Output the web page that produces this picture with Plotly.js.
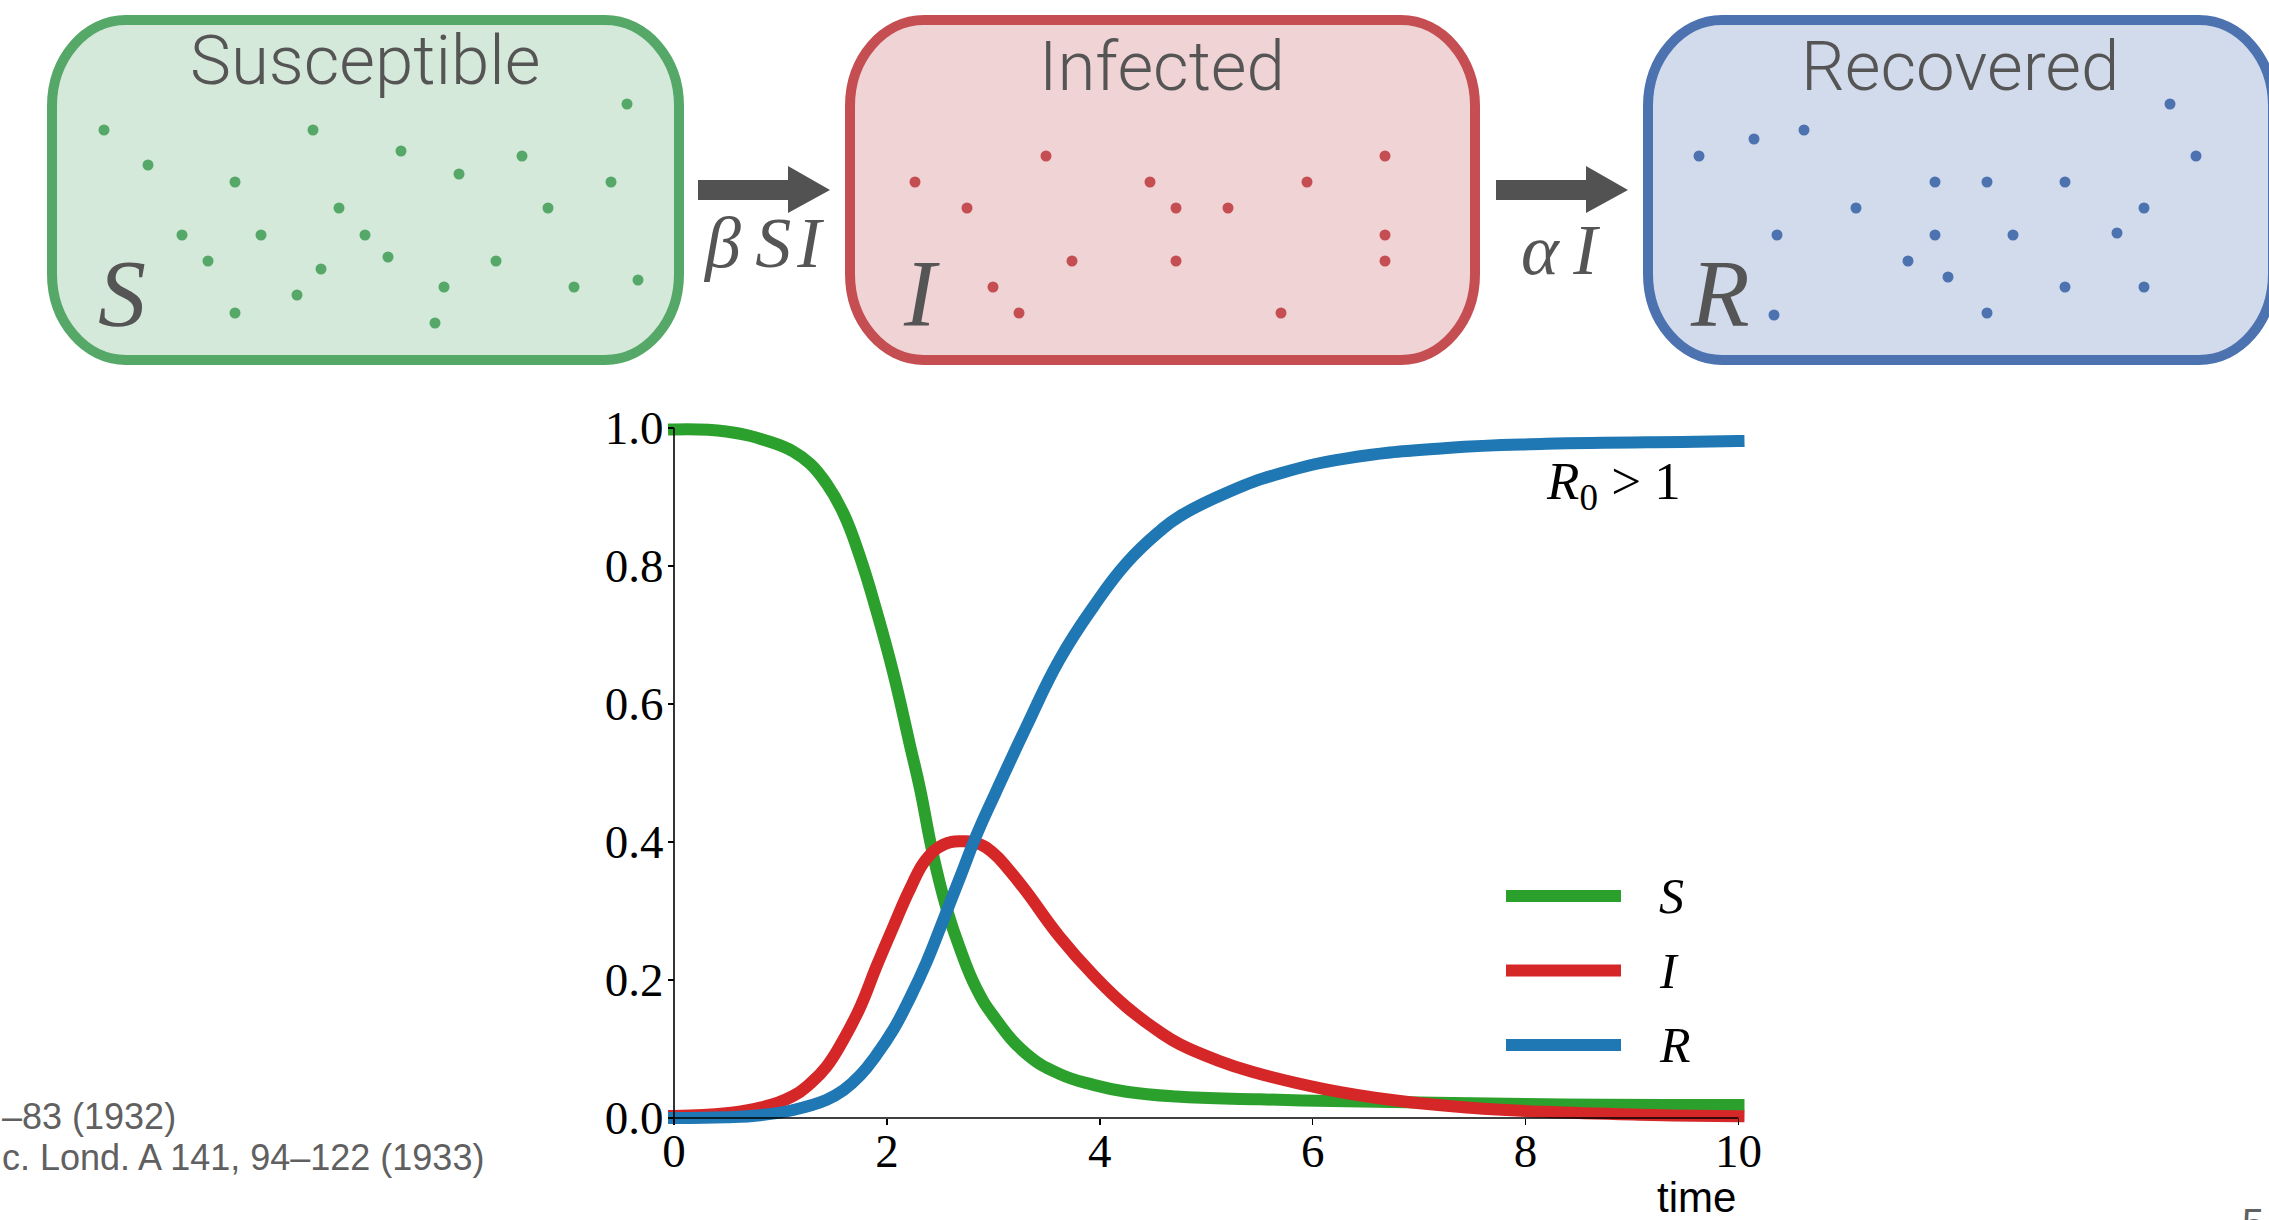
<!DOCTYPE html>
<html><head><meta charset="utf-8">
<script src="https://cdn.plot.ly/plotly-3.0.1.min.js"></script>
<style>
html,body{margin:0;padding:0;background:#fff;overflow:hidden;}
#chart{width:2269px;height:1220px;}
.scatterlayer path.js-line{stroke-linecap:square;}
</style>
</head><body><div id="chart"></div>
<script>
// ---------------- data ----------------
const tS = [0, 0.49, 0.90, 1.12, 1.28, 1.43, 1.59, 1.75, 1.90, 2.06, 2.22, 2.31, 2.43, 2.56, 2.69, 2.84, 3.00, 3.31, 3.62, 3.94, 4.25, 4.72, 5.5, 6.46, 8.17, 10];
const S  = [0.998, 0.995, 0.980, 0.966, 0.948, 0.920, 0.877, 0.812, 0.736, 0.645, 0.538, 0.478, 0.384, 0.304, 0.244, 0.188, 0.148, 0.093, 0.064, 0.048, 0.038, 0.031, 0.027, 0.024, 0.020, 0.019];

const tI = [0, 0.49, 0.81, 1.12, 1.28, 1.43, 1.59, 1.75, 1.90, 2.06, 2.22, 2.37, 2.53, 2.70, 2.85, 3.00, 3.15, 3.31, 3.62, 3.94, 4.25, 4.56, 4.75, 5.1, 5.43, 6.11, 6.80, 7.48, 8.17, 9.19, 10];
const I  = [0.003, 0.007, 0.015, 0.032, 0.050, 0.074, 0.113, 0.161, 0.219, 0.277, 0.333, 0.375, 0.396, 0.401, 0.398, 0.384, 0.359, 0.328, 0.263, 0.207, 0.161, 0.125, 0.107, 0.084, 0.067, 0.042, 0.025, 0.015, 0.009, 0.0045, 0.0025];

const tR = [0, 0.49, 0.81, 1.12, 1.43, 1.59, 1.75, 1.90, 2.06, 2.22, 2.37, 2.53, 2.69, 2.85, 3.02, 3.31, 3.62, 3.94, 4.25, 4.56, 4.75, 5.22, 5.69, 6.32, 7.26, 8.19, 9.6, 10];
const R  = [0.000, 0.001, 0.004, 0.0116, 0.026, 0.040, 0.062, 0.091, 0.128, 0.175, 0.225, 0.287, 0.350, 0.413, 0.471, 0.567, 0.664, 0.741, 0.804, 0.850, 0.872, 0.908, 0.934, 0.956, 0.971, 0.977, 0.980, 0.981];

const xTickVals = [0, 2, 4, 6, 8, 10];
const yTickVals = [0.0, 0.2, 0.4, 0.6, 0.8, 1.0];
const seriesNames = ['S', 'I', 'R'];
const compartmentNames = ['Susceptible', 'Infected', 'Recovered'];
const rateLabels = ['β\u2009S\u200aI', 'α\u2009I'];
const thresholdLabel = '<i>R</i><sub>0</sub> &gt; 1';
const xLabel = 'time';
const refLines = ['–83 (1932)', 'c. Lond. A 141, 94–122 (1933)'];
const pageNumber = '5';

// individuals drawn inside each compartment box (pixel positions in the diagram)
const dotsSx = [104, 313, 627, 148, 401, 522, 235, 459, 611, 339, 548, 182, 261, 365, 208, 388, 496, 321, 297, 444, 574, 638, 235, 435];
const dotsSy = [130, 130, 104, 165, 151, 156, 182, 174, 182, 208, 208, 235, 235, 235, 261, 257, 261, 269, 295, 287, 287, 280, 313, 323];
const dotsIx = [915, 1046, 1385, 967, 1150, 1307, 1176, 1228, 1385, 1072, 1176, 1385, 993, 1019, 1281];
const dotsIy = [182, 156, 156, 208, 182, 182, 208, 208, 235, 261, 261, 261, 287, 313, 313];
const dotsRx = [1699, 1754, 1804, 2170, 2196, 1935, 1987, 2065, 1856, 2144, 1777, 1935, 2013, 2117, 1908, 1948, 2065, 2144, 1774, 1987];
const dotsRy = [156, 139, 130, 104, 156, 182, 182, 182, 208, 208, 235, 235, 235, 233, 261, 277, 287, 287, 315, 313];

// ---------------- layout constants ----------------
const W = 2269, H = 1220;
const lineCol = ['#2ca02c', '#d62728', '#1f77b4'];
const boxLine = ['#55a868', '#c44e52', '#4c72b0'];
const boxFill = ['#d4e9da', '#f0d3d4', '#d2dbeb'];
const grey = '#525252';
const serif = 'Liberation Serif, DejaVu Serif, serif';
const sans = 'Roboto, Liberation Sans, Arial, sans-serif';
const plain = 'Liberation Sans, Arial, sans-serif';

// main axes pixel mapping
const PX0 = 674, PXPERT = 106.45;     // t = 0 at x=674
const PY0 = 1118, PYPERV = 690;       // v = 0 at y=1118
const xRange = [-0.12, 10.12], yRange = [-0.025, 1.025];
const xDom = [(PX0 + xRange[0] * PXPERT) / W, (PX0 + xRange[1] * PXPERT) / W];
const yDom = [(H - (PY0 - yRange[0] * PYPERV)) / H, (H - (PY0 - yRange[1] * PYPERV)) / H];

function roundRect(x0, y0, x1, y1, rx, ry) {
  const k = 0.5523;
  return `M${x0 + rx},${y0} L${x1 - rx},${y0} C${x1 - rx + k * rx},${y0} ${x1},${y0 + ry - k * ry} ${x1},${y0 + ry} ` +
    `L${x1},${y1 - ry} C${x1},${y1 - ry + k * ry} ${x1 - rx + k * rx},${y1} ${x1 - rx},${y1} ` +
    `L${x0 + rx},${y1} C${x0 + rx - k * rx},${y1} ${x0},${y1 - ry + k * ry} ${x0},${y1 - ry} ` +
    `L${x0},${y0 + ry} C${x0},${y0 + ry - k * ry} ${x0 + rx - k * rx},${y0} ${x0 + rx},${y0} Z`;
}
function arrowPath(xs, xh, xt, yc) {
  return `M${xs},${yc - 10} L${xh},${yc - 10} L${xh},${yc - 24} L${xt},${yc} L${xh},${yc + 23} L${xh},${yc + 10} L${xs},${yc + 10} Z`;
}

// ---------------- traces ----------------
const traces = [];
[[tS, S], [tI, I], [tR, R]].forEach((d, i) => {
  traces.push({
    type: 'scatter', mode: 'lines', name: seriesNames[i], x: d[0], y: d[1],
    xaxis: 'x', yaxis: 'y', line: {color: lineCol[i], width: 12, shape: 'spline', smoothing: 1.3},
    hoverinfo: 'skip'
  });
});
[[dotsSx, dotsSy], [dotsIx, dotsIy], [dotsRx, dotsRy]].forEach((d, i) => {
  traces.push({
    type: 'scatter', mode: 'markers', x: d[0], y: d[1], xaxis: 'x2', yaxis: 'y2',
    marker: {color: boxLine[i], size: 11, line: {width: 0}}, hoverinfo: 'skip', showlegend: false
  });
});

// ---------------- shapes ----------------
const boxes = [[52, 20, 679, 360], [850, 20, 1475, 360], [1648, 20, 2273, 360]];
const shapes = [];
boxes.forEach((b, i) => {
  shapes.push({type: 'path', xref: 'x2', yref: 'y2', layer: 'below',
    path: roundRect(b[0], b[1], b[2], b[3], 74, 86),
    fillcolor: boxFill[i], line: {color: boxLine[i], width: 10}});
});
shapes.push({type: 'path', xref: 'x2', yref: 'y2', layer: 'below', path: arrowPath(698, 788, 830, 190), fillcolor: grey, line: {width: 0}});
shapes.push({type: 'path', xref: 'x2', yref: 'y2', layer: 'below', path: arrowPath(1496, 1586, 1628, 190), fillcolor: grey, line: {width: 0}});
// axis spines
shapes.push({type: 'line', xref: 'x', yref: 'y', layer: 'above', x0: 0, x1: 0, y0: 0, y1: 1, line: {color: '#000', width: 1.6}});
shapes.push({type: 'line', xref: 'x', yref: 'y', layer: 'above', x0: 0, x1: 10, y0: 0, y1: 0, line: {color: '#000', width: 1.6}});
// legend samples
const legY = [896, 970.5, 1045];
legY.forEach((y, i) => {
  shapes.push({type: 'line', xref: 'x2', yref: 'y2', x0: 1506, x1: 1621, y0: y, y1: y, line: {color: lineCol[i], width: 12}});
});

// ---------------- annotations ----------------
const ann = [];
function A(text, x, y, opts) {
  ann.push(Object.assign({text: text, x: x, y: y, xref: 'x2', yref: 'y2', showarrow: false,
    xanchor: 'center', yanchor: 'middle'}, opts));
}
const titleY = [60, 66, 66];
const titleX = [365, 1162, 1960];
compartmentNames.forEach((n, i) => A(n, titleX[i], titleY[i], {font: {family: sans, size: 69, color: '#555555', weight: 300}}));
const symX = [122, 921, 1720];
seriesNames.forEach((n, i) => A('<i>' + n + '</i>', symX[i], 293, {font: {family: serif, size: 96, color: '#555555'}}));
A('<i>' + rateLabels[0] + '</i>', 763, 243, {font: {family: serif, size: 72, color: '#555555'}});
A('<i>' + rateLabels[1] + '</i>', 1560, 250, {font: {family: serif, size: 72, color: '#555555'}});
A(thresholdLabel, 1613, 485, {font: {family: serif, size: 53, color: '#000'}});
seriesNames.forEach((n, i) => A('<i>' + n + '</i>', 1657, legY[i], {xanchor: 'left', font: {family: serif, size: 50, color: '#000'}}));
A(xLabel, 1738, 1197, {xanchor: 'right', font: {family: plain, size: 42, color: '#000'}});
A(refLines[0], 0, 1116, {xanchor: 'left', font: {family: plain, size: 36, color: '#606060'}});
A(refLines[1], 0, 1157, {xanchor: 'left', font: {family: plain, size: 36, color: '#606060'}});
A(pageNumber, 2240, 1216, {xanchor: 'left', yshift: -7, font: {family: plain, size: 40, color: '#606060'}});

// ---------------- layout ----------------
const tickFont = {family: serif, size: 47, color: '#000'};
const layout = {
  width: W, height: H, margin: {l: 0, r: 0, t: 0, b: 0, pad: 0},
  paper_bgcolor: '#fff', plot_bgcolor: 'rgba(0,0,0,0)', showlegend: false,
  xaxis: {domain: xDom, range: xRange, anchor: 'free', position: (H - PY0) / H,
    tickvals: xTickVals, ticktext: xTickVals.map(String), ticks: 'outside', ticklen: 6, tickwidth: 1.5, tickcolor: '#000',
    ticklabelstandoff: -14,
    showline: false, showgrid: false, zeroline: false, tickfont: tickFont, fixedrange: true},
  yaxis: {domain: yDom, range: yRange, anchor: 'free', position: PX0 / W,
    tickvals: yTickVals, ticktext: yTickVals.map(v => v.toFixed(1)), ticks: 'outside', ticklen: 6, tickwidth: 1.5, tickcolor: '#000',
    ticklabelstandoff: -5,
    showline: false, showgrid: false, zeroline: false, tickfont: tickFont, fixedrange: true},
  xaxis2: {domain: [0, 1], range: [0, W], anchor: 'y2', visible: false, fixedrange: true},
  yaxis2: {domain: [0, 1], range: [H, 0], anchor: 'x2', visible: false, fixedrange: true},
  shapes: shapes, annotations: ann
};
Plotly.newPlot('chart', traces, layout, {staticPlot: true, displayModeBar: false});
</script>
</body></html>
